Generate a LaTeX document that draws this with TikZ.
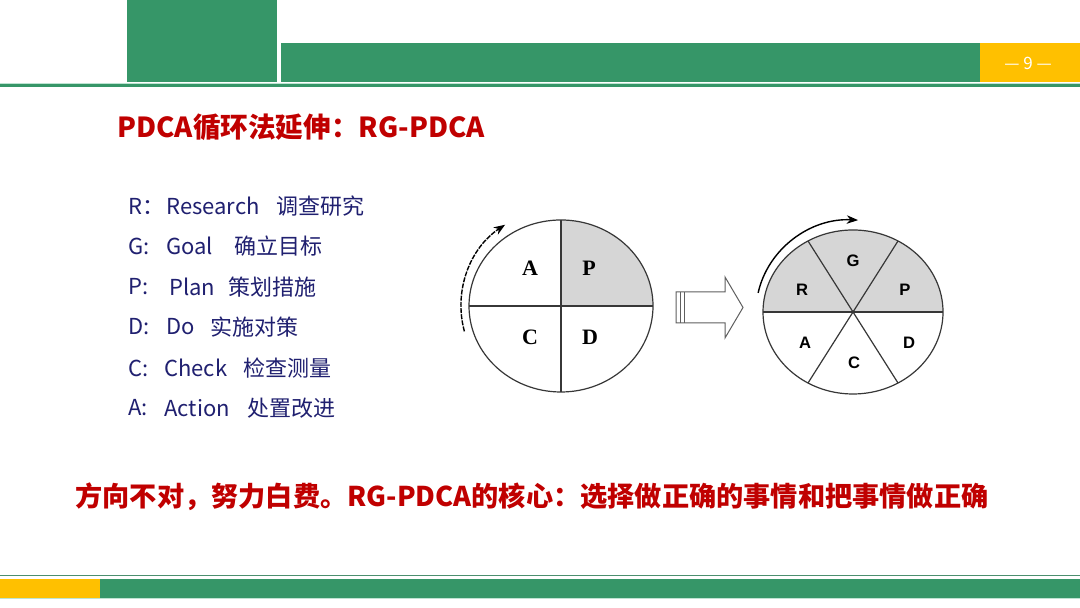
\documentclass[tikz,border=0pt]{standalone}
\usepackage{fontspec}
\usepackage{tikz}
\usetikzlibrary{arrows.meta}
\setmainfont{Liberation Serif}
\newfontfamily\cjk{Noto Sans CJK SC}
\newfontfamily\narrowsans{Liberation Sans}
\definecolor{headgreen}{RGB}{54,150,104}
\definecolor{palegreen}{RGB}{190,228,210}
\definecolor{headyellow}{RGB}{255,192,0}
\definecolor{titlered}{RGB}{192,0,0}
\definecolor{listblue}{RGB}{32,32,112}
\definecolor{pdcagray}{RGB}{214,214,214}
\definecolor{linegrey}{RGB}{55,55,55}
\tikzset{
  base/.style={inner sep=0pt, anchor=west},
  band/.style={fill=headgreen, draw=none},
  heading/.style={base, font=\cjk\bfseries\fontsize{13.8pt}{16pt}\selectfont, text=titlered},
  motto/.style={base, font=\cjk\bfseries\fontsize{13.6pt}{15pt}\selectfont, text=titlered},
  item/.style={base, font=\cjk\fontsize{11pt}{13pt}\selectfont, text=listblue},
  serifletter/.style={inner sep=0pt, font=\bfseries\fontsize{11pt}{12pt}\selectfont},
  sansletter/.style={inner sep=0pt, font=\narrowsans\bfseries\fontsize{8.3pt}{9pt}\selectfont},
  wheel/.style={draw=linegrey, line width=0.6pt},
  turn/.style={-{Stealth[length=2mm,width=1.5mm]}, line width=0.7pt, draw=black},
  hollow/.style={draw=linegrey!80, line width=0.5pt, fill=white},
}
\begin{document}
\begin{tikzpicture}[x=0.5pt,y=0.5pt]
  \useasboundingbox (0,0) rectangle (1080,608);
  \fill[white] (0,0) rectangle (1080,608);
  % header bands
  \fill[band] (127,608) rectangle (277,526);
  \fill[band] (281,565) rectangle (980,526);
  \fill[headyellow] (980,565) rectangle (1080,526);
  \node[inner sep=0pt, text=white, font=\cjk\fontsize{8.5pt}{9pt}\selectfont] (pagenum) at (1028,545) {— 9 —};
  \draw[palegreen, line width=0.5pt] (0,524.5) -- (1080,524.5);
  \fill[band] (0,520.5) rectangle (1080,523.5);
  % footer bands
  \draw[headgreen!70!gray, line width=0.5pt] (0,32) -- (1080,32);
  \fill[headyellow] (0,10.3) rectangle (100,29.3);
  \fill[band] (100,10.3) rectangle (1080,29.3);
  \draw[palegreen, line width=0.5pt] (0,9.5) -- (1080,9.5);
  % title
  \node[heading] (title) at (117,481) {PDCA循环法延伸：RG-PDCA};
  % legend list
  \foreach \tag/\en/\ex/\cn/\cx/\y [count=\n] in {R：/Research/166/调查研究/276/402, G:/Goal/166/确立目标/234/362, P:/Plan/169/策划措施/228/321, D:/Do/166/实施对策/210/281, C:/Check/164/检查测量/243/240, A:/Action/164/处置改进/247/200}{
    \node[item] (tag\n) at (128,\y) {\tag};
    \node[item] (en\n) at (\ex,\y) {\en};
    \node[item] (cn\n) at (\cx,\y) {\cn};
  }
  % PDCA wheel
  \coordinate (lc) at (561,302);
  \fill[pdcagray] (lc) -- ++(46pt,0) arc[start angle=0, end angle=90, x radius=46pt, y radius=43pt] -- cycle;
  \draw[wheel] (lc) ellipse[x radius=46pt, y radius=43pt];
  \draw[wheel] ([xshift=-46pt]lc) -- ([xshift=46pt]lc);
  \draw[wheel] ([yshift=-43pt]lc) -- ([yshift=43pt]lc);
  \node[serifletter] (la) at (530,340) {A};
  \node[serifletter] (lp) at (589,340) {P};
  \node[serifletter] (lcc) at (530,271) {C};
  \node[serifletter] (ld) at (590,271) {D};
  \draw[turn, dash pattern=on 2.5pt off 0.6pt] ([shift={(195:50pt and 49pt)}]lc) arc[start angle=195, end angle=124, x radius=50pt, y radius=49pt];
  % hollow arrow
  \draw[hollow] (676,316) -- (725,316) -- (725,331) -- (743,300.5) -- (725,270) -- (725,285) -- (676,285) -- cycle;
  \foreach \sx in {680,684}{\draw[hollow] (\sx,316) -- (\sx,285);}
  % RG-PDCA wheel
  \coordinate (rc) at (853,296);
  \fill[pdcagray] ([xshift=45pt]rc) arc[start angle=0, end angle=180, x radius=45pt, y radius=41pt] -- cycle;
  \draw[wheel] (rc) ellipse[x radius=45pt, y radius=41pt];
  \foreach \ang in {0,60,120}{
    \draw[wheel] ([shift={(\ang:45pt and 41pt)}]rc) -- ([shift={(\ang+180:45pt and 41pt)}]rc);
  }
  \node[sansletter] (rg) at (853,347) {G};
  \node[sansletter] (rr) at (802,318) {R};
  \node[sansletter] (rp) at (905,318) {P};
  \node[sansletter] (ra) at (805,265) {A};
  \node[sansletter] (rcc) at (854,245) {C};
  \node[sansletter] (rd) at (909,265) {D};
  \draw[turn] ([shift={(168:48.5pt and 46pt)}]rc) arc[start angle=168, end angle=87, x radius=48.5pt, y radius=46pt];
  % motto
  \node[motto] (motto) at (75,111) {方向不对，努力白费。RG-PDCA的核心：选择做正确的事情和把事情做正确};
\end{tikzpicture}
\end{document}
